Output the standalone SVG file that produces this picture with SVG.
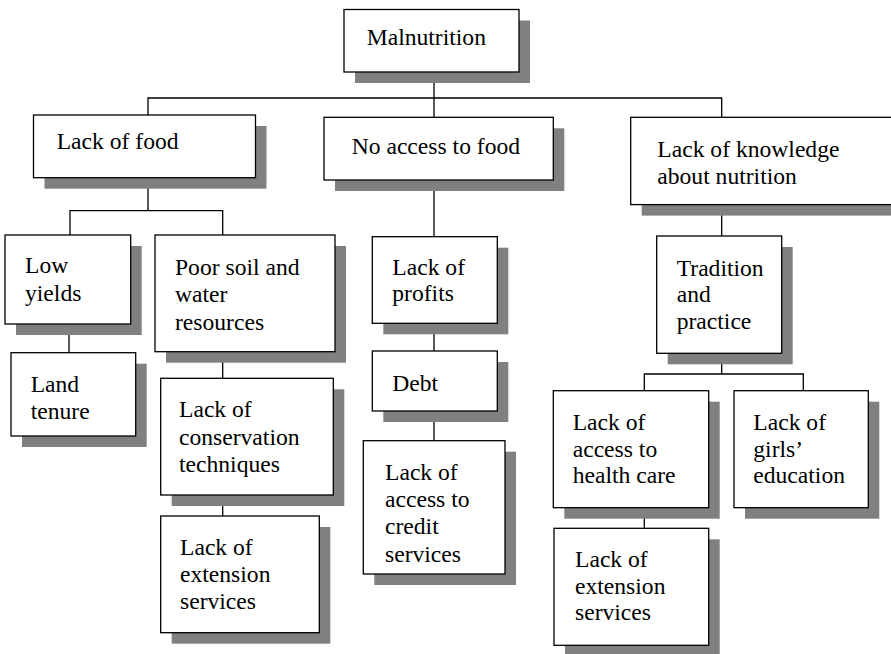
<svg xmlns="http://www.w3.org/2000/svg" width="891" height="654" viewBox="0 0 891 654">
<style>
.sh{fill:#808080}
.bx{fill:#fff;stroke:#000;stroke-width:1.3}
.ln{fill:none;stroke:#000;stroke-width:1.3}
text{font-size:23.6px;fill:#000}
</style>
<rect width="891" height="654" fill="#fff"/>
<g id="connectors" class="ln">
<path d="M434,72 V117.3"/>
<path d="M148,115 V98 H721.7 V117.3"/>
<path d="M148,177.7 V210.7"/>
<path d="M70,235 V210.7 H222.7 V235"/>
<path d="M69,324 V352.7"/>
<path d="M222.7,351.7 V378.3"/>
<path d="M222.7,495 V516"/>
<path d="M434,180 V236.7"/>
<path d="M434,323.3 V351"/>
<path d="M434,411 V440.7"/>
<path d="M721.7,204.7 V236"/>
<path d="M721.7,353.3 V374"/>
<path d="M644.3,390.7 V374 H803.3 V390.7"/>
<path d="M644.3,507.7 V528.3"/>
</g>
<g id="n1"><rect class="sh" x="355" y="20.5" width="175" height="62.5"/><rect class="bx" x="344" y="9.5" width="175" height="62.5"/><text font-family="Liberation Serif" x="366.7" y="45">Malnutrition</text></g>
<g id="n2"><rect class="sh" x="44.5" y="126" width="222" height="62.7"/><rect class="bx" x="33.5" y="115" width="222" height="62.7"/><text font-family="Liberation Serif" x="56.7" y="149">Lack of food</text></g>
<g id="n3"><rect class="sh" x="335" y="128.3" width="229.3" height="62.7"/><rect class="bx" x="324" y="117.3" width="229.3" height="62.7"/><text font-family="Liberation Serif" x="351.7" y="154">No access to food</text></g>
<g id="n4"><rect class="sh" x="641.7" y="128.3" width="270" height="87.3"/><rect class="bx" x="630.7" y="117.3" width="270" height="87.3"/><text font-family="Liberation Serif" x="657.3" y="157.3">Lack of knowledge</text><text font-family="Liberation Serif" x="657.3" y="184.3">about nutrition</text></g>
<g id="n5"><rect class="sh" x="16" y="246" width="125.7" height="89"/><rect class="bx" x="5" y="235" width="125.7" height="89"/><text font-family="Liberation Serif" x="25" y="273.3">Low</text><text font-family="Liberation Serif" x="25" y="301">yields</text></g>
<g id="n6"><rect class="sh" x="22" y="363.7" width="124.7" height="83.3"/><rect class="bx" x="11" y="352.7" width="124.7" height="83.3"/><text font-family="Liberation Serif" x="30.7" y="392.3">Land</text><text font-family="Liberation Serif" x="30.7" y="419.3">tenure</text></g>
<g id="n7"><rect class="sh" x="166" y="246" width="180" height="116.7"/><rect class="bx" x="155" y="235" width="180" height="116.7"/><text font-family="Liberation Serif" x="175" y="274.5">Poor soil and</text><text font-family="Liberation Serif" x="175" y="302">water</text><text font-family="Liberation Serif" x="175" y="329.5">resources</text></g>
<g id="n8"><rect class="sh" x="171.7" y="389.3" width="172.6" height="116.7"/><rect class="bx" x="160.7" y="378.3" width="172.6" height="116.7"/><text font-family="Liberation Serif" x="179" y="416.5">Lack of</text><text font-family="Liberation Serif" x="179" y="444.5">conservation</text><text font-family="Liberation Serif" x="179" y="471.7">techniques</text></g>
<g id="n9"><rect class="sh" x="171.7" y="527" width="158.6" height="116.7"/><rect class="bx" x="160.7" y="516" width="158.6" height="116.7"/><text font-family="Liberation Serif" x="180" y="555">Lack of</text><text font-family="Liberation Serif" x="180" y="582.3">extension</text><text font-family="Liberation Serif" x="180" y="608.5">services</text></g>
<g id="n10"><rect class="sh" x="383.3" y="247.7" width="125" height="86.6"/><rect class="bx" x="372.3" y="236.7" width="125" height="86.6"/><text font-family="Liberation Serif" x="392.3" y="275">Lack of</text><text font-family="Liberation Serif" x="392.3" y="301">profits</text></g>
<g id="n11"><rect class="sh" x="383.3" y="362" width="125" height="60"/><rect class="bx" x="372.3" y="351" width="125" height="60"/><text font-family="Liberation Serif" x="392.3" y="390.7">Debt</text></g>
<g id="n12"><rect class="sh" x="374.3" y="451.7" width="141.7" height="133.3"/><rect class="bx" x="363.3" y="440.7" width="141.7" height="133.3"/><text font-family="Liberation Serif" x="385" y="480">Lack of</text><text font-family="Liberation Serif" x="385" y="507.3">access to</text><text font-family="Liberation Serif" x="385" y="534.3">credit</text><text font-family="Liberation Serif" x="385" y="561.5">services</text></g>
<g id="n13"><rect class="sh" x="667.7" y="247" width="125" height="117.3"/><rect class="bx" x="656.7" y="236" width="125" height="117.3"/><text font-family="Liberation Serif" x="676.7" y="275.7">Tradition</text><text font-family="Liberation Serif" x="676.7" y="302.3">and</text><text font-family="Liberation Serif" x="676.7" y="329.3">practice</text></g>
<g id="n14"><rect class="sh" x="564.3" y="401.7" width="155.4" height="117"/><rect class="bx" x="553.3" y="390.7" width="155.4" height="117"/><text font-family="Liberation Serif" x="572.7" y="430">Lack of</text><text font-family="Liberation Serif" x="572.7" y="456.5">access to</text><text font-family="Liberation Serif" x="572.7" y="483.3">health care</text></g>
<g id="n15"><rect class="sh" x="745" y="401.7" width="134.3" height="117"/><rect class="bx" x="734" y="390.7" width="134.3" height="117"/><text font-family="Liberation Serif" x="753.3" y="430">Lack of</text><text font-family="Liberation Serif" x="753.3" y="456.5">girls&#8217;</text><text font-family="Liberation Serif" x="753.3" y="483.3">education</text></g>
<g id="n16"><rect class="sh" x="565" y="539.3" width="154.7" height="117"/><rect class="bx" x="554" y="528.3" width="154.7" height="117"/><text font-family="Liberation Serif" x="575" y="566.7">Lack of</text><text font-family="Liberation Serif" x="575" y="594">extension</text><text font-family="Liberation Serif" x="575" y="620">services</text></g>
</svg>
